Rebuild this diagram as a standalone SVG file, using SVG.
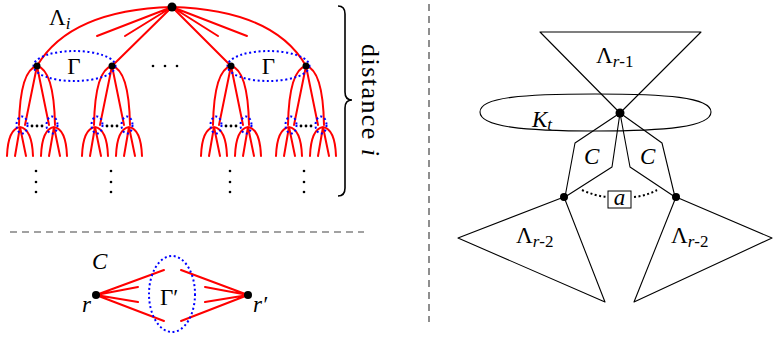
<svg xmlns="http://www.w3.org/2000/svg" width="773" height="339" viewBox="0 0 773 339">
<style>
.red{stroke:#ff0000;stroke-width:2;fill:none;stroke-linecap:round}
.blue{stroke:#0000ff;stroke-width:2;fill:none;stroke-dasharray:2 2.6}
.blk{stroke:#000;stroke-width:1.1;fill:none;stroke-linejoin:round}
.dash{stroke:#444;stroke-width:1.2;fill:none;stroke-dasharray:7 5}
.lbl{font-family:"Liberation Serif","Times New Roman",serif;font-size:23px;fill:#000}
.it{font-style:italic}
.sub{font-size:17px}
.big{font-size:26px}
</style>
<g id="connectors">
  <path class="red" d="M172,7 Q70,10 37,66"/>
  <path class="red" d="M172,7 L112,66"/>
  <path class="red" d="M172,7 L231,66"/>
  <path class="red" d="M172,7 Q274,10 306,66"/>
  <path class="red" d="M172,7 L97,36 M172,7 L125,36 M172,7 L218,36 M172,7 L247,36"/>
  <path class="red" d="M37,66 Q20,70 19,125 M37,66 L25,125 M37,66 L49,125 M37,66 Q54,70 55,125"/>
  <path class="red" d="M112,66 Q95,70 94,125 M112,66 L100,125 M112,66 L124,125 M112,66 Q129,70 130,125"/>
  <path class="red" d="M231,66 Q214,70 213,125 M231,66 L219,125 M231,66 L243,125 M231,66 Q248,70 249,125"/>
  <path class="red" d="M306,66 Q289,70 288,125 M306,66 L294,125 M306,66 L318,125 M306,66 Q323,70 324,125"/>
  <path class="red" d="M20,127 Q8,129 7,156 M20,127 L15,156 M20,127 L26,156 M20,127 Q32,129 33,156"/>
  <path class="red" d="M54,127 Q42,129 41,156 M54,127 L49,156 M54,127 L60,156 M54,127 Q66,129 67,156"/>
  <path class="red" d="M95,127 Q83,129 82,156 M95,127 L90,156 M95,127 L101,156 M95,127 Q107,129 108,156"/>
  <path class="red" d="M129,127 Q117,129 116,156 M129,127 L124,156 M129,127 L135,156 M129,127 Q141,129 142,156"/>
  <path class="red" d="M214,127 Q202,129 201,156 M214,127 L209,156 M214,127 L220,156 M214,127 Q226,129 227,156"/>
  <path class="red" d="M248,127 Q236,129 235,156 M248,127 L243,156 M248,127 L254,156 M248,127 Q260,129 261,156"/>
  <path class="red" d="M289,127 Q277,129 276,156 M289,127 L284,156 M289,127 L295,156 M289,127 Q301,129 302,156"/>
  <path class="red" d="M323,127 Q311,129 310,156 M323,127 L318,156 M323,127 L329,156 M323,127 Q335,129 336,156"/>
  <path class="red" d="M96,295 L164,270 M96,295 L138,287 M96,295 L138,302 M96,295 L164,321"/>
  <path class="red" d="M248,295 L181,270 M248,295 L205,287 M248,295 L205,302 M248,295 L181,321"/>
  <path class="blk" d="M620,113 L575,143 L565,197 M620,113 L612,167 L565,197"/>
  <path class="blk" d="M620,113 L662,143 L675,197 M620,113 L630,167 L675,197"/>
  <path d="M582,190 Q595,196 607,197 M634,197 Q646,196 657,190" stroke="#000" stroke-width="2" fill="none" stroke-dasharray="2 2.5"/>
</g>
<g id="gamma-left">
  <ellipse class="blue" cx="74.5" cy="66" rx="41" ry="15"/>
  <text class="lbl" x="74" y="74" text-anchor="middle">Γ</text>
</g>
<g id="gamma-right">
  <ellipse class="blue" cx="268.5" cy="66" rx="41" ry="15"/>
  <text class="lbl" x="268.5" y="74" text-anchor="middle">Γ</text>
</g>
<g id="level2-groups">
  <ellipse class="blue" cx="22" cy="125" rx="5.5" ry="8.5"/>
  <ellipse class="blue" cx="52" cy="125" rx="5.5" ry="8.5"/>
  <ellipse class="blue" cx="97" cy="125" rx="5.5" ry="8.5"/>
  <ellipse class="blue" cx="127" cy="125" rx="5.5" ry="8.5"/>
  <ellipse class="blue" cx="216" cy="125" rx="5.5" ry="8.5"/>
  <ellipse class="blue" cx="246" cy="125" rx="5.5" ry="8.5"/>
  <ellipse class="blue" cx="291" cy="125" rx="5.5" ry="8.5"/>
  <ellipse class="blue" cx="321" cy="125" rx="5.5" ry="8.5"/>
  <g fill="#000">
    <circle cx="32" cy="126" r="1.4"/><circle cx="37" cy="126" r="1.4"/><circle cx="42" cy="126" r="1.4"/>
    <circle cx="107" cy="126" r="1.4"/><circle cx="112" cy="126" r="1.4"/><circle cx="117" cy="126" r="1.4"/>
    <circle cx="226" cy="126" r="1.4"/><circle cx="231" cy="126" r="1.4"/><circle cx="236" cy="126" r="1.4"/>
    <circle cx="301" cy="126" r="1.4"/><circle cx="306" cy="126" r="1.4"/><circle cx="311" cy="126" r="1.4"/>
  </g>
</g>
<g id="vdots" fill="#000">
  <circle cx="36" cy="171" r="1.3"/><circle cx="36" cy="182" r="1.3"/><circle cx="36" cy="192" r="1.3"/>
  <circle cx="111" cy="171" r="1.3"/><circle cx="111" cy="182" r="1.3"/><circle cx="111" cy="192" r="1.3"/>
  <circle cx="230" cy="171" r="1.3"/><circle cx="230" cy="182" r="1.3"/><circle cx="230" cy="192" r="1.3"/>
  <circle cx="304" cy="171" r="1.3"/><circle cx="304" cy="182" r="1.3"/><circle cx="304" cy="192" r="1.3"/>
</g>
<g id="hdots" fill="#000">
  <circle cx="153" cy="66" r="1.3"/><circle cx="165" cy="66" r="1.3"/><circle cx="177" cy="66" r="1.3"/>
</g>
<g id="root">
  <circle cx="172" cy="7" r="4.5" fill="#000"/>
  <text class="lbl" x="49" y="25">Λ<tspan class="sub it" dy="4">i</tspan></text>
</g>
<g id="level1-nodes" fill="#000">
  <circle cx="37" cy="66" r="3.5"/>
  <circle cx="112" cy="66" r="3.5"/>
  <circle cx="231" cy="66" r="3.5"/>
  <circle cx="306" cy="66" r="3.5"/>
</g>
<g id="brace">
  <path d="M338,6 Q345,6 345,14 L345,92 Q345,100 352,100 Q345,100 345,108 L345,188 Q345,196 338,196" stroke="#000" stroke-width="1.6" fill="none"/>
  <text class="lbl big" transform="translate(362,100) rotate(90)" text-anchor="middle" textLength="112" lengthAdjust="spacing">distance <tspan class="it">i</tspan></text>
</g>
<g id="separators">
  <line class="dash" x1="10" y1="232" x2="364" y2="232"/>
  <line class="dash" x1="429" y1="4" x2="429" y2="322"/>
</g>
<g id="gamma-prime">
  <ellipse class="blue" cx="172" cy="294" rx="23" ry="38"/>
  <text class="lbl" x="160" y="305">Γ′</text>
</g>
<g id="node-r">
  <circle cx="96" cy="295" r="4" fill="#000"/>
  <text class="lbl it" x="82" y="312">r</text>
  <text class="lbl it" x="92" y="269">C</text>
</g>
<g id="node-r-prime">
  <circle cx="248" cy="295" r="4" fill="#000"/>
  <text class="lbl it" x="253" y="312">r′</text>
</g>
<g id="lambda-r1">
  <path class="blk" d="M540,32 L701,32 L620,113 Z"/>
  <text class="lbl" x="596" y="63">Λ<tspan class="sub it" dy="4">r</tspan><tspan class="sub">-1</tspan></text>
</g>
<g id="kt">
  <path class="blk" d="M480,112 C480,97 525,94 595,94 C665,94 711,97 711,112 C711,127 665,131 595,131 C525,131 480,127 480,112 Z"/>
  <text class="lbl it" x="532" y="127">K<tspan class="sub" dy="3">t</tspan></text>
</g>
<g id="center-node">
  <circle cx="620" cy="113" r="4.5" fill="#000"/>
</g>
<g id="c-labels">
  <text class="lbl it" x="584" y="164">C</text>
  <text class="lbl it" x="640" y="164">C</text>
</g>
<g id="lambda-r2-left">
  <path class="blk" d="M564,197 L458,238 L605,302 Z"/>
  <circle cx="564" cy="197" r="4" fill="#000"/>
  <text class="lbl" x="516" y="243">Λ<tspan class="sub it" dy="4">r</tspan><tspan class="sub">-2</tspan></text>
</g>
<g id="lambda-r2-right">
  <path class="blk" d="M676,197 L772,238 L634,302 Z"/>
  <circle cx="676" cy="197" r="4" fill="#000"/>
  <text class="lbl" x="671" y="243">Λ<tspan class="sub it" dy="4">r</tspan><tspan class="sub">-2</tspan></text>
</g>
<g id="box-a">
  <rect x="608" y="191" width="23" height="17" fill="#fff" stroke="#000" stroke-width="1"/>
  <text class="lbl it" x="619.5" y="205" text-anchor="middle">a</text>
</g>
</svg>
